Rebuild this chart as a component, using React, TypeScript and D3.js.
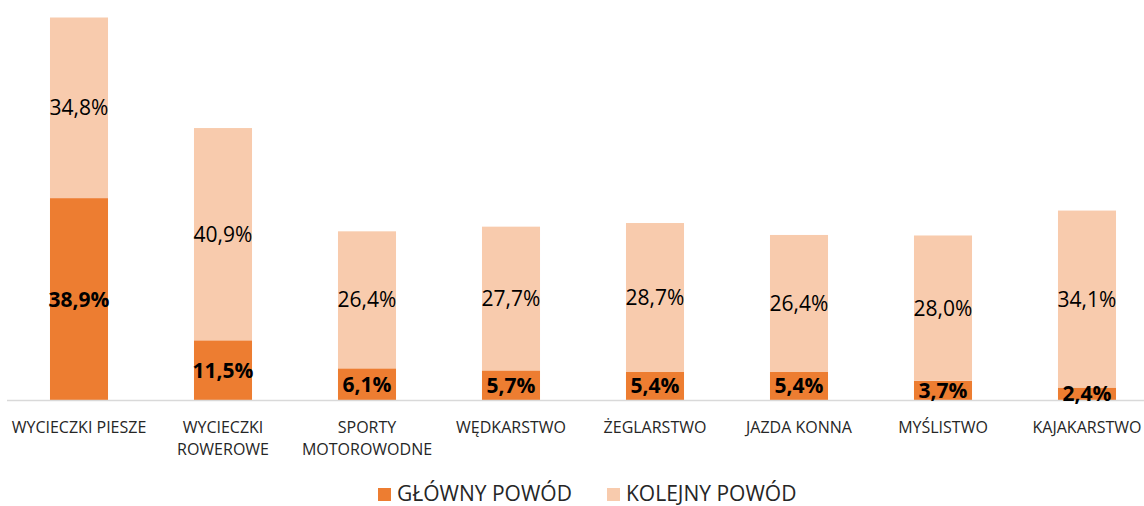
import React from "react";
import * as d3 from "d3";

const categories = [
  "WYCIECZKI PIESZE",
  "WYCIECZKI ROWEROWE",
  "SPORTY MOTOROWODNE",
  "WĘDKARSTWO",
  "ŻEGLARSTWO",
  "JAZDA KONNA",
  "MYŚLISTWO",
  "KAJAKARSTWO",
];
const categoryLines = [
  ["WYCIECZKI PIESZE"],
  ["WYCIECZKI", "ROWEROWE"],
  ["SPORTY", "MOTOROWODNE"],
  ["WĘDKARSTWO"],
  ["ŻEGLARSTWO"],
  ["JAZDA KONNA"],
  ["MYŚLISTWO"],
  ["KAJAKARSTWO"],
];
const mainReason = [38.9, 11.5, 6.1, 5.7, 5.4, 5.4, 3.7, 2.4];
const nextReason = [34.8, 40.9, 26.4, 27.7, 28.7, 26.4, 28.0, 34.1];
const seriesNames = ["GŁÓWNY POWÓD", "KOLEJNY POWÓD"];
const colors = ["#ED7D31", "#F8CBAD"];

const W = 1144;
const H = 506;
const FONT = "'Open Sans', sans-serif";
const fmt = (v: number) => v.toFixed(1).replace(".", ",") + "%";

export default function App() {
  const x = d3
    .scaleBand<string>()
    .domain(categories)
    .range([7, 1159])
    .paddingInner(0.597)
    .paddingOuter(0.2985);
  const y = d3.scaleLinear().domain([0, 73.7]).range([400, 17.5]);

  const stackData = categories.map((c, i) => ({
    cat: c,
    main: mainReason[i],
    next: nextReason[i],
  }));
  const stack = d3.stack<any>().keys(["main", "next"])(stackData);

  return (
    <svg
      width={W}
      height={H}
      style={{ position: "absolute", left: 0, top: 0, display: "block" }}
      fontFamily={FONT}
    >
      <rect width={W} height={H} fill="#fff" />
      {stack.map((layer, li) =>
        layer.map((d, i) => {
          const x0 = x(categories[i])!;
          const y0 = y(d[1]);
          const y1 = y(d[0]);
          return (
            <rect
              key={`${li}-${i}`}
              x={x0}
              y={y0}
              width={x.bandwidth()}
              height={y1 - y0}
              fill={colors[li]}
            />
          );
        })
      )}
      <line x1={7} x2={W} y1={400.5} y2={400.5} stroke="#D9D9D9" strokeWidth={1.5} />
      {stack.map((layer, li) =>
        layer.map((d, i) => {
          const cx = x(categories[i])! + x.bandwidth() / 2;
          const mid = (y(d[0]) + y(d[1])) / 2;
          const v = li === 0 ? mainReason[i] : nextReason[i];
          return (
            <text
              key={`l-${li}-${i}`}
              x={cx}
              y={mid + 7.5}
              textAnchor="middle"
              fontSize={21}
              fontWeight={li === 0 ? 700 : 400}
              fill="#000"
            >
              {fmt(v)}
            </text>
          );
        })
      )}
      {categoryLines.map((lines, i) => {
        const cx = x(categories[i])! + x.bandwidth() / 2;
        return (
          <text key={`c-${i}`} textAnchor="middle" fontSize={16} fill="#262626">
            {lines.map((ln, j) => (
              <tspan key={j} x={cx} y={433 + j * 22}>
                {ln}
              </tspan>
            ))}
          </text>
        );
      })}
      {seriesNames.map((n, i) => {
        const lx = i === 0 ? 378 : 607;
        return (
          <g key={`lg-${i}`}>
            <rect x={lx} y={488} width={13} height={13} fill={colors[i]} />
            <text x={lx + 19} y={500.5} fontSize={21} fill="#262626">
              {n}
            </text>
          </g>
        );
      })}
    </svg>
  );
}
